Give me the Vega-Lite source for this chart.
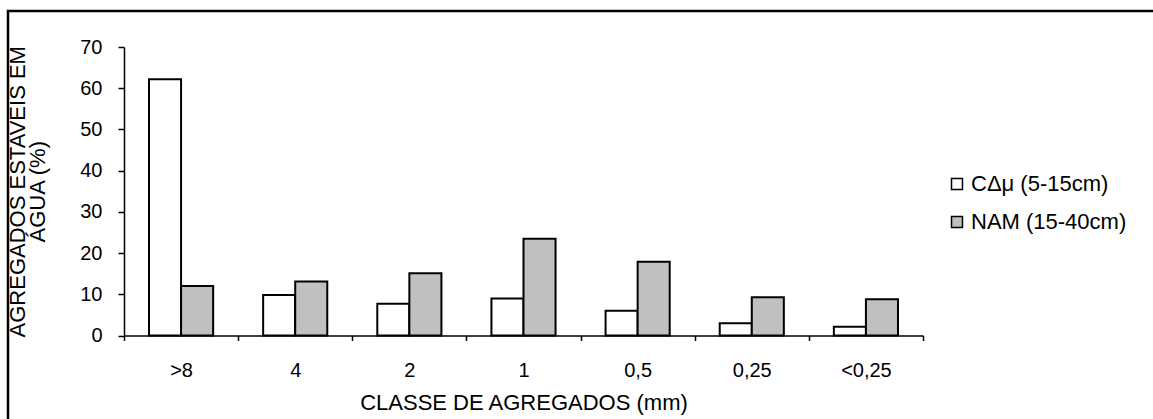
{
  "$schema": "https://vega.github.io/schema/vega-lite/v6.json",
  "width": 1153,
  "height": 419,
  "autosize": "none",
  "padding": {"left": 8, "top": 11, "right": 0, "bottom": 0},
  "background": "white",
  "config": {
    "view": {"stroke": "black", "strokeWidth": 2.5},
    "font": "Liberation Sans"
  },
  "data": {
    "values": [
      {"classe": ">8", "serie": "CΔμ (5-15cm)", "valor": 62.2},
      {"classe": ">8", "serie": "NAM (15-40cm)", "valor": 12.0},
      {"classe": "4", "serie": "CΔμ (5-15cm)", "valor": 9.8},
      {"classe": "4", "serie": "NAM (15-40cm)", "valor": 13.1},
      {"classe": "2", "serie": "CΔμ (5-15cm)", "valor": 7.7},
      {"classe": "2", "serie": "NAM (15-40cm)", "valor": 15.1},
      {"classe": "1", "serie": "CΔμ (5-15cm)", "valor": 9.0},
      {"classe": "1", "serie": "NAM (15-40cm)", "valor": 23.5},
      {"classe": "0,5", "serie": "CΔμ (5-15cm)", "valor": 6.0},
      {"classe": "0,5", "serie": "NAM (15-40cm)", "valor": 17.9},
      {"classe": "0,25", "serie": "CΔμ (5-15cm)", "valor": 3.0},
      {"classe": "0,25", "serie": "NAM (15-40cm)", "valor": 9.3},
      {"classe": "<0,25", "serie": "CΔμ (5-15cm)", "valor": 2.1},
      {"classe": "<0,25", "serie": "NAM (15-40cm)", "valor": 8.8}
    ]
  },
  "mark": {"type": "bar", "stroke": "black", "strokeWidth": 2},
  "encoding": {
    "x": {
      "field": "classe",
      "type": "nominal",
      "sort": [">8", "4", "2", "1", "0,5", "0,25", "<0,25"],
      "scale": {"range": [116, 915], "paddingInner": 0, "paddingOuter": 0},
      "axis": {
        "orient": "bottom",
        "offset": -94.5,
        "title": "CLASSE DE AGREGADOS (mm)",
        "titleFontSize": 22,
        "titleFontWeight": "normal",
        "titleColor": "black",
        "titlePadding": 12,
        "labelAngle": 0,
        "labelFontSize": 20,
        "labelColor": "black",
        "labelPadding": 20,
        "tickBand": "extent",
        "tickSize": 5,
        "tickColor": "black",
        "tickWidth": 1.5,
        "domainColor": "black",
        "domainWidth": 1.5,
        "grid": false
      }
    },
    "xOffset": {
      "field": "serie",
      "type": "nominal",
      "sort": ["CΔμ (5-15cm)", "NAM (15-40cm)"],
      "scale": {"paddingInner": 0, "paddingOuter": 0.78}
    },
    "y": {
      "field": "valor",
      "type": "quantitative",
      "scale": {"domain": [0, 70], "range": [324.5, 36], "nice": false},
      "axis": {
        "orient": "left",
        "offset": -116,
        "values": [0, 10, 20, 30, 40, 50, 60, 70],
        "title": ["AGREGADOS ESTAVEIS EM", "ÁGUA (%)"],
        "titleFontSize": 22,
        "titleFontWeight": "normal",
        "titleColor": "black",
        "titleLineHeight": 20,
        "titlePadding": 30,
        "labelFontSize": 20,
        "labelColor": "black",
        "labelPadding": 16,
        "tickSize": 6,
        "tickColor": "black",
        "tickWidth": 1.5,
        "domainColor": "black",
        "domainWidth": 1.5,
        "grid": false
      }
    },
    "fill": {
      "field": "serie",
      "type": "nominal",
      "sort": ["CΔμ (5-15cm)", "NAM (15-40cm)"],
      "scale": {"domain": ["CΔμ (5-15cm)", "NAM (15-40cm)"], "range": ["white", "#c0c0c0"]},
      "legend": {
        "title": null,
        "orient": "none",
        "legendX": 938,
        "legendY": 162,
        "symbolType": "square",
        "symbolSize": 120,
        "symbolStrokeColor": "black",
        "symbolStrokeWidth": 1.5,
        "symbolOpacity": 1,
        "labelFontSize": 22,
        "labelColor": "black",
        "labelOffset": 3,
        "rowPadding": 16
      }
    }
  }
}
